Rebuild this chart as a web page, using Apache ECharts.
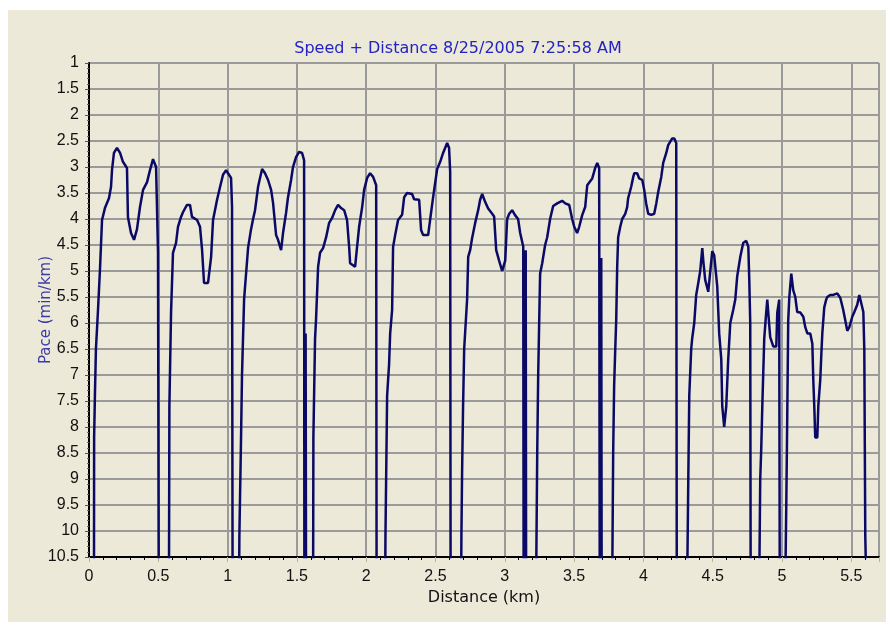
<!DOCTYPE html>
<html>
<head>
<meta charset="utf-8">
<title>Speed + Distance</title>
<script src="https://cdn.jsdelivr.net/npm/echarts@6/dist/echarts.min.js"></script>
<style>
  html, body { margin: 0; padding: 0; background: #fff; }
  #chart {
    position: absolute;
    left: 8px;
    top: 10px;
    width: 878px;
    height: 612px;
  }
</style>
</head>
<body>
<div id="chart"></div>
<script>
// distance (km) and pace (min/km), one segment per line;
// 11 means the pace runs off the bottom of the chart (stopped)
const distance = [
  0.036, 0.037, 0.043, 0.050, 0.065, 0.079, 0.094, 0.115, 0.144, 0.159, 0.166, 0.180, 0.202, 0.224, 0.245, 0.274, 0.281, 0.303, 0.325, 0.346, 0.368, 0.390, 0.419, 0.440, 0.462, 0.484, 0.498, 0.503,
  0.577, 0.580, 0.592, 0.606, 0.628, 0.642, 0.664, 0.678, 0.707, 0.729, 0.743, 0.780, 0.801, 0.816, 0.830, 0.859, 0.881, 0.895, 0.924, 0.946, 0.967, 0.989, 1.003, 1.025, 1.032, 1.036,
  1.083, 1.085, 1.097, 1.104, 1.119, 1.126, 1.148, 1.169, 1.184, 1.198, 1.220, 1.234, 1.249, 1.270, 1.292, 1.314, 1.328, 1.350, 1.364, 1.386, 1.400, 1.422, 1.436, 1.458, 1.472, 1.494, 1.516, 1.537, 1.552, 1.554, 1.563, 1.566,
  1.617, 1.619, 1.631, 1.638, 1.653, 1.667, 1.689, 1.711, 1.732, 1.754, 1.776, 1.797, 1.819, 1.841, 1.862, 1.877, 1.884, 1.920, 1.934, 1.949, 1.971, 1.985, 2.007, 2.028, 2.050, 2.072, 2.075,
  2.137, 2.139, 2.151, 2.165, 2.173, 2.187, 2.194, 2.209, 2.230, 2.259, 2.274, 2.295, 2.331, 2.346, 2.382, 2.396, 2.411, 2.447, 2.461, 2.483, 2.512, 2.534, 2.555, 2.584, 2.598, 2.606, 2.609,
  2.685, 2.687, 2.692, 2.699, 2.707, 2.728, 2.736, 2.750, 2.764, 2.786, 2.808, 2.822, 2.837, 2.858, 2.880, 2.909, 2.923, 2.938, 2.959, 2.981, 3.003, 3.017, 3.032, 3.053, 3.075, 3.096, 3.111, 3.133, 3.136, 3.151, 3.154,
  3.226, 3.234, 3.241, 3.248, 3.255, 3.270, 3.291, 3.306, 3.327, 3.349, 3.378, 3.414, 3.436, 3.465, 3.486, 3.501, 3.522, 3.537, 3.558, 3.580, 3.595, 3.631, 3.652, 3.667, 3.681, 3.685, 3.696, 3.699,
  3.775, 3.782, 3.789, 3.797, 3.804, 3.811, 3.818, 3.833, 3.847, 3.869, 3.883, 3.890, 3.912, 3.927, 3.934, 3.955, 3.970, 3.992, 4.006, 4.020, 4.035, 4.057, 4.078, 4.093, 4.107, 4.129, 4.143, 4.165, 4.179, 4.208, 4.223, 4.237, 4.241,
  4.316, 4.324, 4.331, 4.345, 4.352, 4.367, 4.381, 4.396, 4.410, 4.425, 4.432, 4.446, 4.468, 4.482, 4.497, 4.504, 4.511, 4.533, 4.547, 4.562, 4.569, 4.583, 4.598, 4.612, 4.627, 4.648, 4.663, 4.677, 4.699, 4.720, 4.742, 4.757, 4.764, 4.771, 4.774,
  4.836, 4.843, 4.850, 4.858, 4.872, 4.886, 4.894, 4.901, 4.915, 4.937, 4.959, 4.966, 4.980, 4.984,
  5.024, 5.031, 5.038, 5.045, 5.053, 5.067, 5.074, 5.081, 5.096, 5.110, 5.132, 5.154, 5.168, 5.183, 5.204, 5.219, 5.226, 5.233, 5.240, 5.255, 5.262, 5.276, 5.284, 5.291, 5.305, 5.319, 5.327, 5.348, 5.370, 5.399, 5.421, 5.442, 5.457, 5.471, 5.486, 5.507, 5.522, 5.543, 5.558, 5.572, 5.587, 5.594, 5.601, 5.608
];

const pace = [
  11, 8.2, 7.35, 6.5, 5.75, 4.98, 4.02, 3.79, 3.6, 3.38, 3.06, 2.73, 2.63, 2.73, 2.9, 3.02, 3.96, 4.27, 4.4, 4.2, 3.77, 3.44, 3.29, 3.06, 2.85, 3.0, 4.65, 11,
  11, 7.6, 5.8, 4.65, 4.46, 4.15, 3.96, 3.87, 3.73, 3.73, 3.96, 4.02, 4.15, 4.6, 5.23, 5.23, 4.73, 4.02, 3.63, 3.38, 3.15, 3.06, 3.12, 3.21, 3.77, 11,
  11, 10.1, 8.2, 7.0, 5.55, 5.3, 4.55, 4.2, 4.0, 3.83, 3.38, 3.21, 3.04, 3.12, 3.25, 3.44, 3.69, 4.31, 4.4, 4.6, 4.27, 3.88, 3.58, 3.25, 3.0, 2.81, 2.71, 2.73, 2.87, 11, 6.2, 11,
  11, 8.2, 6.3, 5.94, 4.92, 4.65, 4.56, 4.35, 4.08, 3.98, 3.83, 3.73, 3.79, 3.83, 4.02, 4.54, 4.85, 4.92, 4.54, 4.15, 3.77, 3.44, 3.21, 3.12, 3.19, 3.35, 11,
  11, 10.1, 7.4, 6.8, 6.2, 5.75, 4.54, 4.31, 4.02, 3.92, 3.58, 3.5, 3.52, 3.62, 3.63, 4.21, 4.31, 4.31, 4.02, 3.58, 3.04, 2.9, 2.73, 2.54, 2.63, 3.1, 11,
  11, 10.1, 8.85, 7.6, 6.5, 5.55, 4.73, 4.6, 4.37, 4.08, 3.83, 3.63, 3.52, 3.67, 3.8, 3.9, 3.95, 4.6, 4.8, 5.0, 4.8, 4.0, 3.9, 3.83, 3.93, 4.0, 4.27, 4.53, 11, 4.6, 11,
  11, 8.5, 7.0, 6.0, 5.05, 4.85, 4.5, 4.35, 4.0, 3.75, 3.7, 3.65, 3.7, 3.73, 4.0, 4.15, 4.27, 4.15, 3.93, 3.77, 3.35, 3.22, 3.02, 2.92, 3.02, 11, 4.75, 11,
  11, 8.5, 7.2, 6.5, 5.94, 4.92, 4.35, 4.15, 4.0, 3.9, 3.77, 3.6, 3.38, 3.19, 3.12, 3.12, 3.22, 3.25, 3.44, 3.7, 3.9, 3.92, 3.9, 3.7, 3.48, 3.19, 2.92, 2.73, 2.58, 2.45, 2.45, 2.54, 11,
  11, 9.0, 7.4, 6.5, 6.3, 6.0, 5.46, 5.23, 5.0, 4.56, 4.8, 5.17, 5.4, 5.4, 4.62, 4.62, 4.7, 5.3, 6.2, 6.7, 7.6, 8.0, 7.6, 6.7, 6.0, 5.75, 5.55, 5.1, 4.73, 4.46, 4.42, 4.53, 5.17, 6.0, 11,
  11, 9.0, 8.45, 7.6, 6.3, 5.8, 5.55, 5.8, 6.27, 6.45, 6.45, 5.8, 5.55, 11,
  11, 9.5, 7.8, 5.95, 5.5, 5.05, 5.08, 5.37, 5.5, 5.79, 5.8, 5.88, 6.08, 6.2, 6.2, 6.4, 7.1, 7.6, 8.2, 8.2, 7.6, 7.1, 6.6, 6.2, 5.7, 5.55, 5.5, 5.46, 5.46, 5.43, 5.52, 5.75, 5.95, 6.15, 6.08, 5.88, 5.79, 5.65, 5.46, 5.46, 5.79, 6.52, 10.1, 11
];

const titleText = "Speed + Distance 8/25/2005 7:25:58 AM";
const font = "'Liberation Sans', Arial, sans-serif";
const wideFont = "'DejaVu Sans', Verdana, sans-serif";

const chart = echarts.init(document.getElementById("chart"));

chart.setOption({
  animation: false,
  backgroundColor: "#ECE9D8",
  title: {
    text: titleText,
    left: 445,
    top: 26,
    textAlign: "center",
    textStyle: { color: "#2323c4", fontSize: 16, fontWeight: "normal", fontFamily: wideFont },
  },
  grid: {
    left: 81,
    top: 53,
    right: 7,
    bottom: 65,
    show: true,
    backgroundColor: "#ECE9D8",
    borderColor: "#000",
    borderWidth: 1,
  },
  xAxis: {
    type: "value",
    min: 0,
    max: 5.7,
    interval: 0.5,
    name: "Distance (km)",
    nameLocation: "middle",
    nameGap: 33,
    nameMoveOverlap: false,
    nameTextStyle: { color: "#111", fontSize: 16, fontFamily: wideFont },
    axisLine: { show: true, onZero: false, lineStyle: { color: "#000", width: 2 } },
    axisTick: { show: true, length: 5, lineStyle: { color: "#b8b88a", width: 1 } },
    minorTick: { show: true, splitNumber: 5, length: 3, lineStyle: { color: "#000" } },
    axisLabel: { color: "#111", fontSize: 16, fontFamily: font, margin: 12, showMaxLabel: false },
    splitLine: { show: true, lineStyle: { color: "#9a9a9a", width: 2 } },
  },
  yAxis: {
    type: "value",
    inverse: true,
    min: 1,
    max: 10.5,
    interval: 0.5,
    name: "Pace (min/km)",
    nameLocation: "middle",
    nameGap: 35,
    nameMoveOverlap: false,
    nameTextStyle: { color: "#3a3aa8", fontSize: 15, fontFamily: wideFont },
    axisLine: { show: true, onZero: false, lineStyle: { color: "#000", width: 2 } },
    axisTick: { show: true, length: 4, lineStyle: { color: "#555" } },
    minorTick: { show: true, splitNumber: 5, length: 2, lineStyle: { color: "#666" } },
    axisLabel: { color: "#111", fontSize: 16, fontFamily: font, margin: 10 },
    splitLine: { show: true, lineStyle: { color: "#9a9a9a", width: 2 } },
  },
  series: [
    {
      type: "line",
      data: distance.map((d, i) => [d, pace[i]]),
      showSymbol: false,
      clip: true,
      lineStyle: { color: "#0a0a66", width: 2.5 },
    },
  ],
});
</script>
</body>
</html>
